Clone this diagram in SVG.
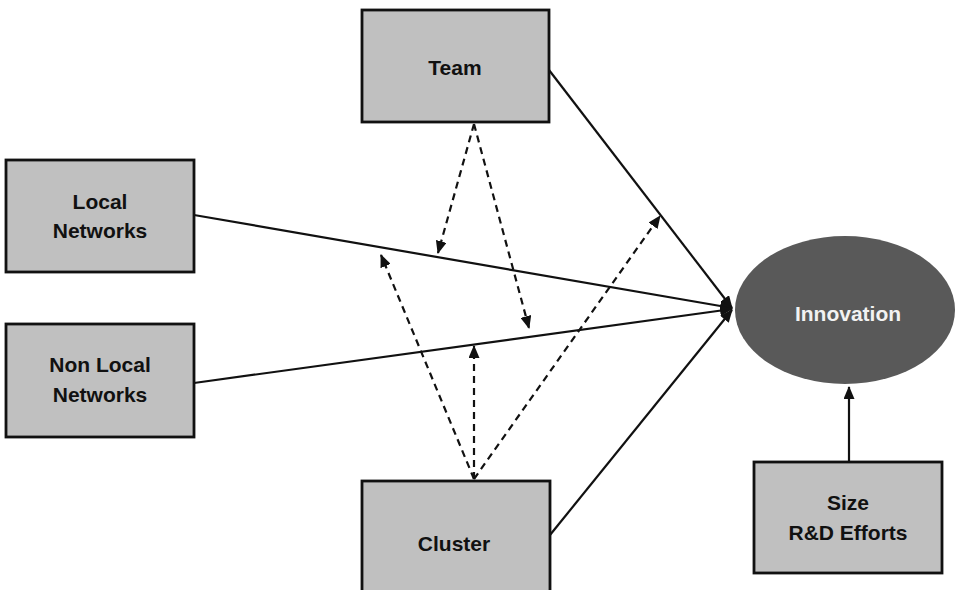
<svg xmlns="http://www.w3.org/2000/svg" width="956" height="590" viewBox="0 0 956 590">
<style>
.box{fill:#c0c0c0;stroke:#111;stroke-width:2.8}
.lbl{font-family:"Liberation Sans",Arial,sans-serif;font-weight:bold;font-size:21px;fill:#111;text-anchor:middle}
.solid{stroke:#111;stroke-width:2.2;fill:none}
.dash{stroke:#111;stroke-width:2.2;fill:none;stroke-dasharray:7 5}
</style>
<defs>
<marker id="ah" markerWidth="13" markerHeight="11" refX="12" refY="5.5" orient="auto" markerUnits="userSpaceOnUse">
<path d="M0,0 L13,5.5 L0,11 Z" fill="#111"/>
</marker>
</defs>
<rect width="956" height="590" fill="#fff"/>
<g id="connectors">
<line class="solid" x1="549" y1="70" x2="732" y2="308" marker-end="url(#ah)"/>
<line class="solid" x1="194" y1="215" x2="732" y2="308" marker-end="url(#ah)"/>
<line class="solid" x1="194" y1="383" x2="732" y2="309" marker-end="url(#ah)"/>
<line class="solid" x1="550" y1="535" x2="732" y2="310" marker-end="url(#ah)"/>
<line class="solid" x1="849" y1="462" x2="849" y2="387" marker-end="url(#ah)"/>
<line class="dash" x1="474" y1="124" x2="438" y2="253" marker-end="url(#ah)"/>
<line class="dash" x1="474" y1="124" x2="529" y2="328" marker-end="url(#ah)"/>
<line class="dash" x1="474" y1="479" x2="381" y2="255" marker-end="url(#ah)"/>
<line class="dash" x1="474" y1="479" x2="474" y2="346" marker-end="url(#ah)"/>
<line class="dash" x1="474" y1="479" x2="660" y2="216" marker-end="url(#ah)"/>
</g>
<g id="team">
<rect class="box" x="362" y="10" width="187" height="112"/>
<text class="lbl" x="455" y="75">Team</text>
</g>
<g id="local">
<rect class="box" x="6" y="160" width="188" height="112"/>
<text class="lbl" x="100" y="209">Local</text>
<text class="lbl" x="100" y="238">Networks</text>
</g>
<g id="nonlocal">
<rect class="box" x="6" y="324" width="188" height="113"/>
<text class="lbl" x="100" y="372">Non Local</text>
<text class="lbl" x="100" y="402">Networks</text>
</g>
<g id="cluster">
<rect class="box" x="362" y="481" width="188" height="120"/>
<text class="lbl" x="454" y="551">Cluster</text>
</g>
<g id="innovation">
<ellipse cx="845" cy="310" rx="110" ry="74" fill="#595959"/>
<text class="lbl" x="848" y="321" style="fill:#f2f2f2;font-size:21px">Innovation</text>
</g>
<g id="size">
<rect class="box" x="754" y="462" width="188" height="111"/>
<text class="lbl" x="848" y="510">Size</text>
<text class="lbl" x="848" y="540">R&amp;D Efforts</text>
</g>
</svg>
